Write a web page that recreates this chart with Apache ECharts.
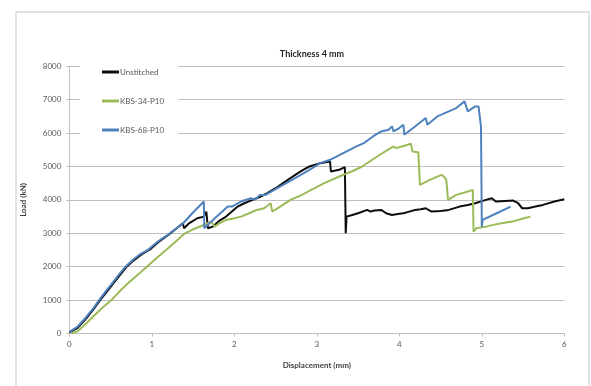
<!DOCTYPE html>
<html><head><meta charset="utf-8">
<script src="https://cdn.jsdelivr.net/npm/echarts@6/dist/echarts.min.js"></script>
<style>html,body{margin:0;padding:0;background:#fff}#c{width:591px;height:386px}</style>
</head><body><div id="c"></div>
<script>
const titleText = "Thickness 4 mm";
const xLabel = "Displacement (mm)";
const yLabel = "Load (kN)";
const seriesNames = ["Unstitched", "KBS-34-P10", "KBS-68-P10"];
const seriesColors = ["#0d0d0d", "#9bbb59", "#4f81bd"];

const unstitched = [
  [0,30],[0.1,170],[0.2,440],[0.3,750],[0.37,990],[0.45,1240],[0.53,1490],[0.61,1740],[0.69,1990],[0.78,2190],[0.87,2360],
  [0.95,2480],[0.98,2520],[1.08,2740],[1.22,2990],[1.3,3150],[1.375,3300],[1.39,3150],[1.45,3300],[1.55,3450],[1.63,3500],
  [1.66,3650],[1.68,3150],[1.74,3200],[1.82,3380],[1.9,3500],[2.04,3800],[2.12,3900],[2.22,4000],[2.3,4080],[2.4,4200],
  [2.5,4350],[2.59,4500],[2.68,4650],[2.77,4800],[2.85,4920],[2.91,5000],[3.04,5100],[3.16,5150],[3.17,4850],[3.27,4900],
  [3.34,4980],[3.35,3000],[3.36,3500],[3.43,3550],[3.5,3600],[3.61,3700],[3.65,3650],[3.7,3680],[3.78,3700],[3.84,3600],
  [3.91,3550],[3.98,3580],[4.05,3600],[4.12,3650],[4.19,3700],[4.26,3720],[4.32,3750],[4.39,3650],[4.5,3670],[4.6,3700],
  [4.73,3800],[4.83,3850],[4.92,3900],[5.05,4000],[5.12,4050],[5.17,3950],[5.28,3970],[5.38,3980],[5.44,3900],[5.49,3750],
  [5.56,3750],[5.65,3800],[5.74,3850],[5.88,3950],[6.0,4020]
];
const kbs34 = [
  [0.03,0],[0.1,70],[0.2,290],[0.3,540],[0.4,770],[0.51,1000],[0.6,1240],[0.7,1480],[0.8,1700],[0.94,2000],[1.03,2200],
  [1.1,2350],[1.2,2560],[1.3,2780],[1.4,3000],[1.5,3120],[1.63,3250],[1.72,3350],[1.76,3200],[1.82,3300],[1.9,3400],
  [2.0,3450],[2.08,3500],[2.18,3600],[2.27,3700],[2.36,3750],[2.44,3900],[2.46,3650],[2.57,3820],[2.68,4000],[2.8,4130],
  [2.95,4320],[3.09,4500],[3.3,4730],[3.45,4880],[3.55,5000],[3.64,5150],[3.73,5300],[3.83,5450],[3.93,5600],[3.96,5550],
  [4.03,5600],[4.1,5650],[4.14,5680],[4.16,5450],[4.23,5430],[4.25,4450],[4.37,4600],[4.51,4750],[4.54,4700],[4.57,4600],
  [4.59,4000],[4.69,4150],[4.83,4250],[4.89,4300],[4.9,3050],[4.93,3150],[5.05,3200],[5.15,3260],[5.24,3300],[5.37,3350],
  [5.51,3450],[5.59,3500]
];
const kbs68 = [
  [0,50],[0.1,210],[0.2,480],[0.3,790],[0.36,1000],[0.44,1260],[0.52,1510],[0.6,1760],[0.68,2000],[0.77,2210],[0.86,2380],
  [0.95,2500],[1.08,2770],[1.22,3000],[1.3,3150],[1.38,3300],[1.49,3600],[1.63,3950],[1.635,3150],[1.72,3350],[1.83,3600],
  [1.92,3800],[1.97,3800],[2.08,3950],[2.2,4050],[2.25,4000],[2.31,4150],[2.38,4150],[2.52,4350],[2.7,4600],[2.91,4900],
  [3.04,5100],[3.16,5200],[3.32,5400],[3.48,5600],[3.57,5700],[3.68,5900],[3.78,6050],[3.87,6100],[3.91,6200],[3.93,6050],
  [4.0,6150],[4.05,6250],[4.06,5950],[4.19,6200],[4.32,6450],[4.34,6250],[4.46,6500],[4.6,6650],[4.69,6750],[4.79,6950],
  [4.83,6650],[4.92,6800],[4.96,6800],[4.97,6600],[4.99,6200],[5.0,3200],[5.01,3400],[5.18,3600],[5.35,3800]
];

const xTicks = {min: 0, max: 6, interval: 1};
const yTicks = {min: 0, max: 8000, interval: 1000};

const chart = echarts.init(document.getElementById('c'), null, {renderer: 'canvas'});
const fontFam = 'Lato, "Open Sans", sans-serif';
const dataSets = [unstitched, kbs34, kbs68];
chart.setOption({
  backgroundColor: '#fff',
  animation: false,
  title: {text: titleText, left: 307, top: 45, textAlign: 'center',
    textStyle: {fontSize: 9, fontWeight: 'bold', color: '#262626', fontFamily: fontFam}},
  graphic: [{type: 'rect', shape: {x: 16, y: 12, width: 573, height: 400},
    style: {fill: 'none', stroke: '#d9d9d9', lineWidth: 1.5}, silent: true, z: -1}],
  legend: {orient: 'vertical', left: 80, top: 64, itemGap: 21, itemWidth: 17, itemHeight: 3,
    icon: 'rect', backgroundColor: '#fff', padding: [4, 14, 4, 22],
    textStyle: {fontSize: 8, color: '#595959', fontFamily: fontFam, padding: [0, 0, 0, -4]},
    data: seriesNames},
  grid: {left: 69.4, right: 26.7, top: 66.3, bottom: 52.5},
  xAxis: {type: 'value', min: xTicks.min, max: xTicks.max, interval: xTicks.interval,
    name: xLabel, nameLocation: 'middle', nameGap: 28,
    nameTextStyle: {fontSize: 8, fontWeight: 'bold', color: '#404040', fontFamily: fontFam},
    axisLine: {show: true, lineStyle: {color: '#bfbfbf', width: 1}},
    axisTick: {show: true, length: 3, lineStyle: {color: '#bfbfbf'}},
    axisLabel: {fontSize: 8, color: '#595959', margin: 7, fontFamily: fontFam},
    splitLine: {show: false}},
  yAxis: {type: 'value', min: yTicks.min, max: yTicks.max, interval: yTicks.interval,
    name: yLabel, nameLocation: 'middle', nameGap: 42, nameRotate: 90,
    nameTextStyle: {fontSize: 8, fontWeight: 'bold', color: '#404040', fontFamily: fontFam},
    axisLine: {show: true, lineStyle: {color: '#bfbfbf', width: 1}},
    axisTick: {show: true, length: 3, lineStyle: {color: '#bfbfbf'}},
    axisLabel: {fontSize: 8, color: '#595959', margin: 8, fontFamily: fontFam,
      formatter: v => String(v)},
    splitLine: {show: true, lineStyle: {color: '#bfbfbf', width: 1}}},
  series: seriesNames.map((n, i) => ({
    name: n, type: 'line', data: dataSets[i], showSymbol: false, symbol: 'none',
    lineStyle: {color: seriesColors[i], width: 2}, itemStyle: {color: seriesColors[i]},
    z: 2 + i
  }))
});
</script></body></html>
